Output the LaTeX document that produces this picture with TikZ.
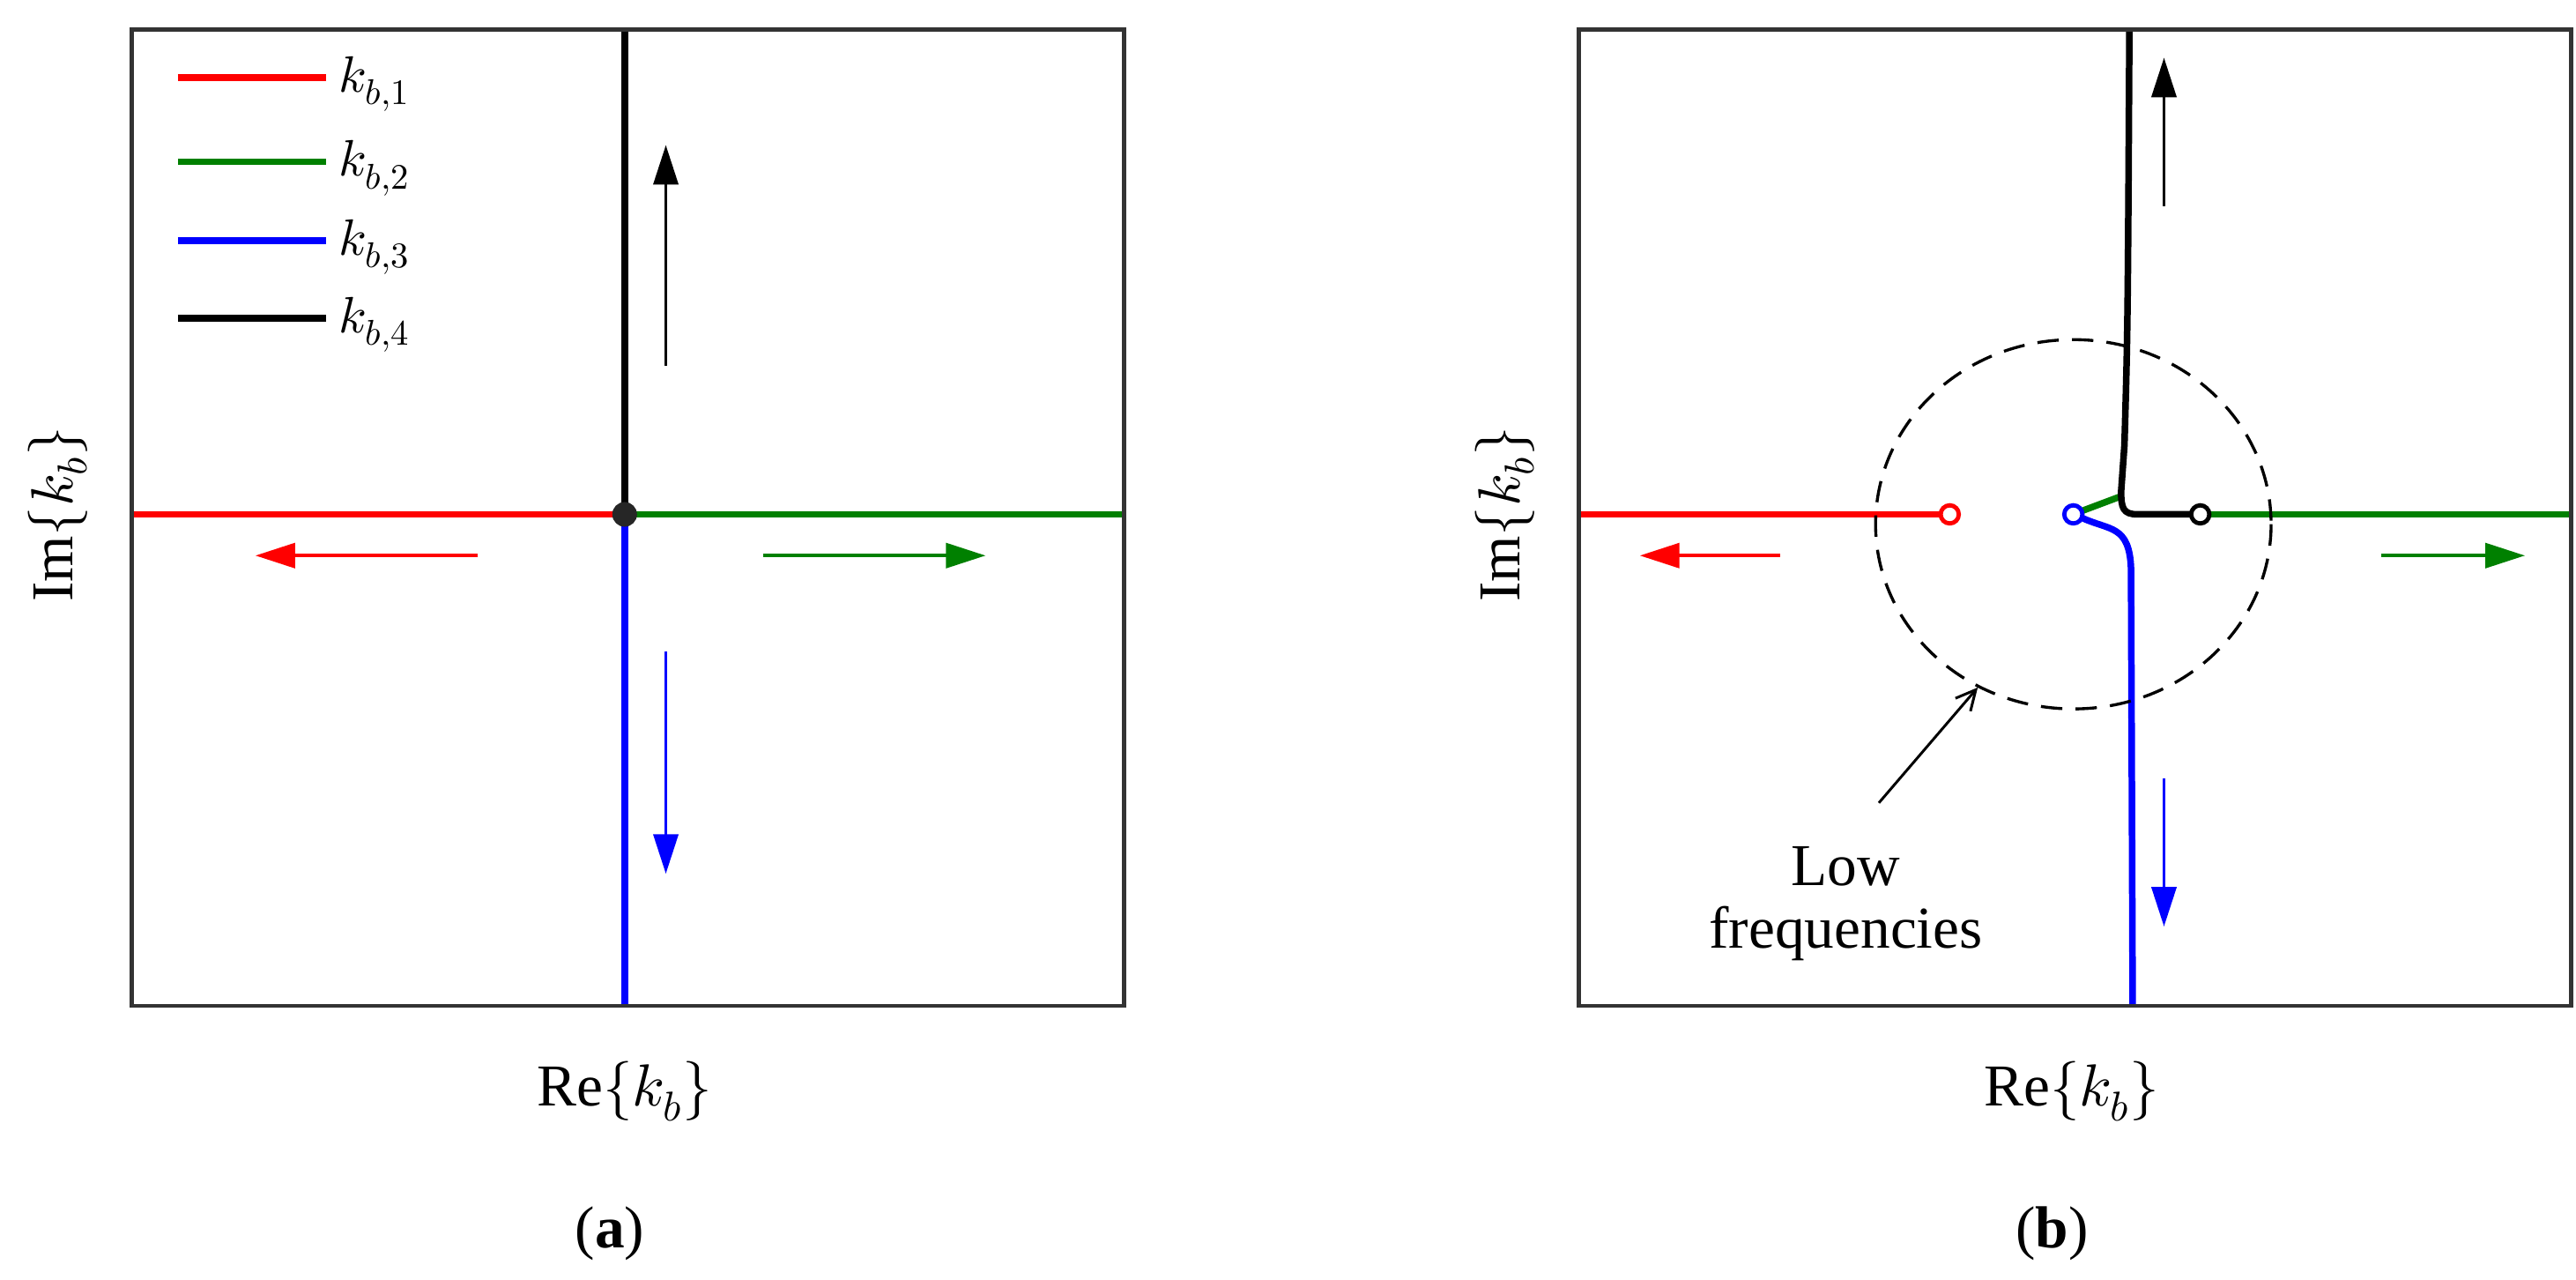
\documentclass[tikz,border=0pt]{standalone}
\usepackage{fontspec}
\setmainfont{Liberation Serif}
\usepackage{unicode-math}
\setmathfont{Latin Modern Math}
\usetikzlibrary{arrows.meta}
\begin{document}
\begin{tikzpicture}[x=1pt,y=-1pt,
 box/.style={draw=black!80,line width=2.4pt},
 crv/.style={line width=4pt},
 dir/.style={line width=2pt,-{Triangle[length=24pt,width=15pt]}},
 lbl/.style={font=\fontsize{36}{42}\selectfont},
 leg/.style={font=\fontsize{31}{36}\selectfont,anchor=west}]
\useasboundingbox (0,0) rectangle (1563,776);
\fill[white] (0,0) rectangle (1563,776);
% panel a
\draw[crv,red] (80,312) -- (379,312);
\draw[crv,green!50!black] (379,312) -- (682,312);
\draw[crv,blue] (379,312) -- (379,610);
\draw[crv,black] (379,312) -- (379,18);
\node[circle,fill=black!85,inner sep=0pt,minimum size=15pt] (o) at (379,312) {};
\draw[box] (80,18) rectangle (682,610);
\draw[dir] (404,222) -- (404,88);
\draw[dir,red] (290,337) -- (155,337);
\draw[dir,green!50!black] (463,337) -- (598,337);
\draw[dir,blue] (404,395) -- (404,530);
\foreach \c/\yy/\n in {red/47/1,green!50!black/98/2,blue/146/3,black/193/4}{
 \draw[crv,\c] (108,\yy) -- (198,\yy);
 \node[leg] at (202,\yy+4) {$k_{b,\n}$};}
\node[lbl,rotate=90] at (35,312) {Im$\{k_b\}$};
\node[lbl] at (379,662) {Re$\{k_b\}$};
\node[lbl] at (370,748) {(\textbf{a})};
% panel b
\draw[crv,red] (958,312) -- (1180,312);
\draw[crv,green!50!black] (1339,312) -- (1560,312);
\draw[crv,green!50!black] (1263,310) -- (1287,301);
\draw[crv,black] (1331,312) -- (1297,312) .. controls (1288,312) and (1287,308) .. (1287,298) -- (1289,270) .. controls (1291,200) .. (1292,18);
\draw[crv,blue] (1263,314) .. controls (1280,322) and (1292,318) .. (1293,345) -- (1294,610);
\node[circle,draw=red,line width=2.6pt,fill=white,inner sep=0pt,minimum size=11pt] (rc) at (1183,312) {};
\node[circle,draw=blue,line width=2.6pt,fill=white,inner sep=0pt,minimum size=11pt] (bc) at (1258,312) {};
\node[circle,draw=black,line width=2.6pt,fill=white,inner sep=0pt,minimum size=11pt] (kc) at (1335,312) {};
\draw[box] (958,18) rectangle (1560,610);
\draw[line width=1.8pt,dash pattern=on 13pt off 8pt] (1258,318) ellipse (120 and 112);
\draw[dir] (1313,125) -- (1313,35);
\draw[dir,red] (1080,337) -- (995,337);
\draw[dir,green!50!black] (1445,337) -- (1532,337);
\draw[dir,blue] (1313,472) -- (1313,562);
\node[lbl,align=center] (lf) at (1120,548) {Low\\[-4pt]frequencies};
\coordinate (ct) at (1200,417);
\draw[line width=1.6pt,-{Straight Barb[length=12pt,width=12pt]}] (1140,487) -- (ct);
\node[lbl,rotate=90] at (913,312) {Im$\{k_b\}$};
\node[lbl] at (1257,662) {Re$\{k_b\}$};
\node[lbl] at (1245,748) {(\textbf{b})};
\end{tikzpicture}
\end{document}
